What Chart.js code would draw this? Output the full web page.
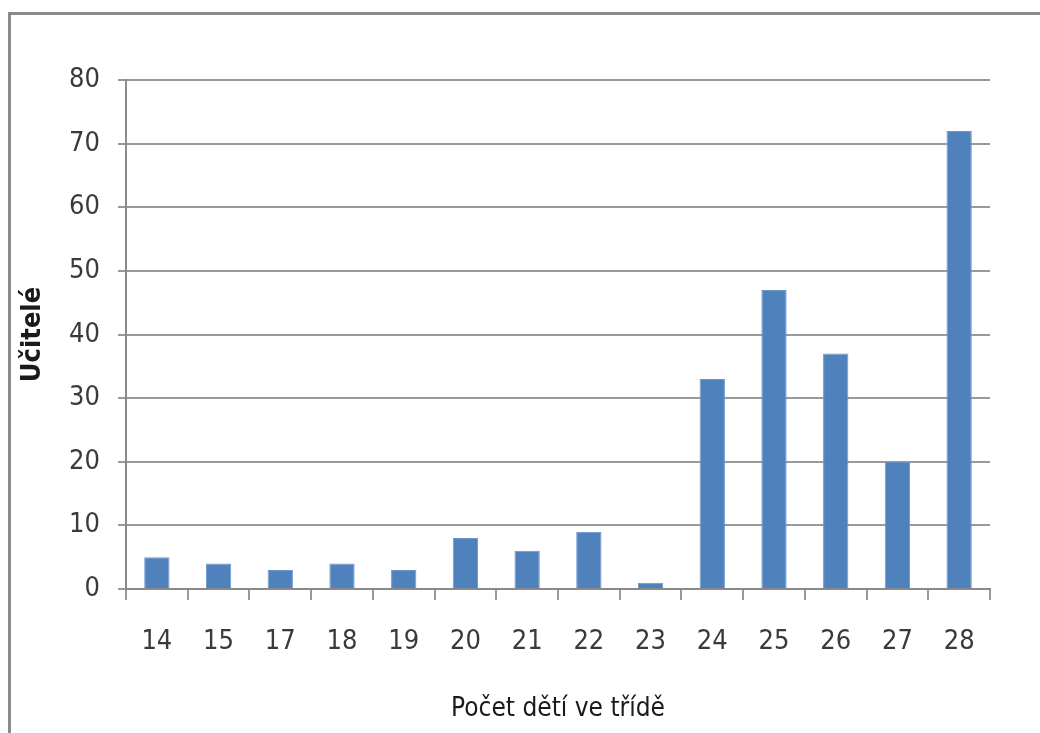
<!DOCTYPE html>
<html>
<head>
<meta charset="utf-8">
<script src="https://cdn.jsdelivr.net/npm/chart.js@4/dist/chart.umd.min.js"></script>
<style>
  html, body { margin: 0; padding: 0; background: #fff; }
  #wrap { position: relative; width: 1040px; height: 733px; overflow: hidden; }
  #frame { position: absolute; left: 8px; top: 12px; width: 1100px; height: 800px;
           border-left: 3px solid #8a8a8a; border-top: 3px solid #8a8a8a; }
  canvas { position: absolute; left: 0; top: 0; }
</style>
</head>
<body>
<div id="wrap">
  <div id="frame"></div>
  <canvas id="c" width="1040" height="733"></canvas>
</div>
<script>
// Počet dětí ve třídě (class size) and number of teachers
const classSizes = ['14', '15', '17', '18', '19', '20', '21', '22', '23', '24', '25', '26', '27', '28'];
const teachers = [5, 4, 3, 4, 3, 8, 6, 9, 1, 33, 47, 37, 20, 72];
const yTicks = [0, 10, 20, 30, 40, 50, 60, 70, 80];

const FONT = "'DejaVu Sans Condensed', 'Liberation Sans Narrow', 'Liberation Sans', sans-serif";
const gridColor = '#9a9a9a';
const textColor = '#3a3a3a';

new Chart(document.getElementById('c'), {
  type: 'bar',
  data: {
    labels: classSizes,
    datasets: [{
      data: teachers,
      backgroundColor: '#4f81bd',
      borderColor: '#6b97cc',
      borderWidth: 1,
      barPercentage: 0.41,
      categoryPercentage: 1.0
    }]
  },
  options: {
    responsive: false,
    animation: false,
    layout: { padding: { left: 0, right: 50, top: 80, bottom: 0 } },
    plugins: { legend: { display: false }, tooltip: { enabled: false } },
    scales: {
      x: {
        grid: {
          offset: true,
          drawOnChartArea: false,
          drawTicks: true,
          tickLength: 11,
          color: gridColor,
          lineWidth: 2
        },
        border: { color: '#8a8a8a', width: 2 },
        ticks: {
          color: textColor,
          font: { family: FONT, size: 27 },
          padding: 26,
          maxRotation: 0
        },
        title: {
          display: true,
          text: 'Počet dětí ve třídě',
          color: '#1a1a1a',
          font: { family: FONT, size: 26 },
          padding: { top: 0, bottom: 8 }
        },
        afterFit(scale) { scale.height = 144; }
      },
      y: {
        min: 0,
        max: 80,
        afterBuildTicks(scale) { scale.ticks = yTicks.map(v => ({ value: v })); },
        grid: {
          drawTicks: true,
          tickLength: 8,
          color: gridColor,
          lineWidth: 2
        },
        border: { color: '#8a8a8a', width: 2 },
        ticks: {
          color: textColor,
          font: { family: FONT, size: 27 },
          padding: 18
        },
        title: {
          display: true,
          text: 'Učitelé',
          color: '#1a1a1a',
          font: { family: FONT, size: 27, weight: 'bold' },
          padding: { top: 17, bottom: 0 }
        },
        afterFit(scale) { scale.width = 126; }
      }
    }
  }
});
</script>
</body>
</html>
